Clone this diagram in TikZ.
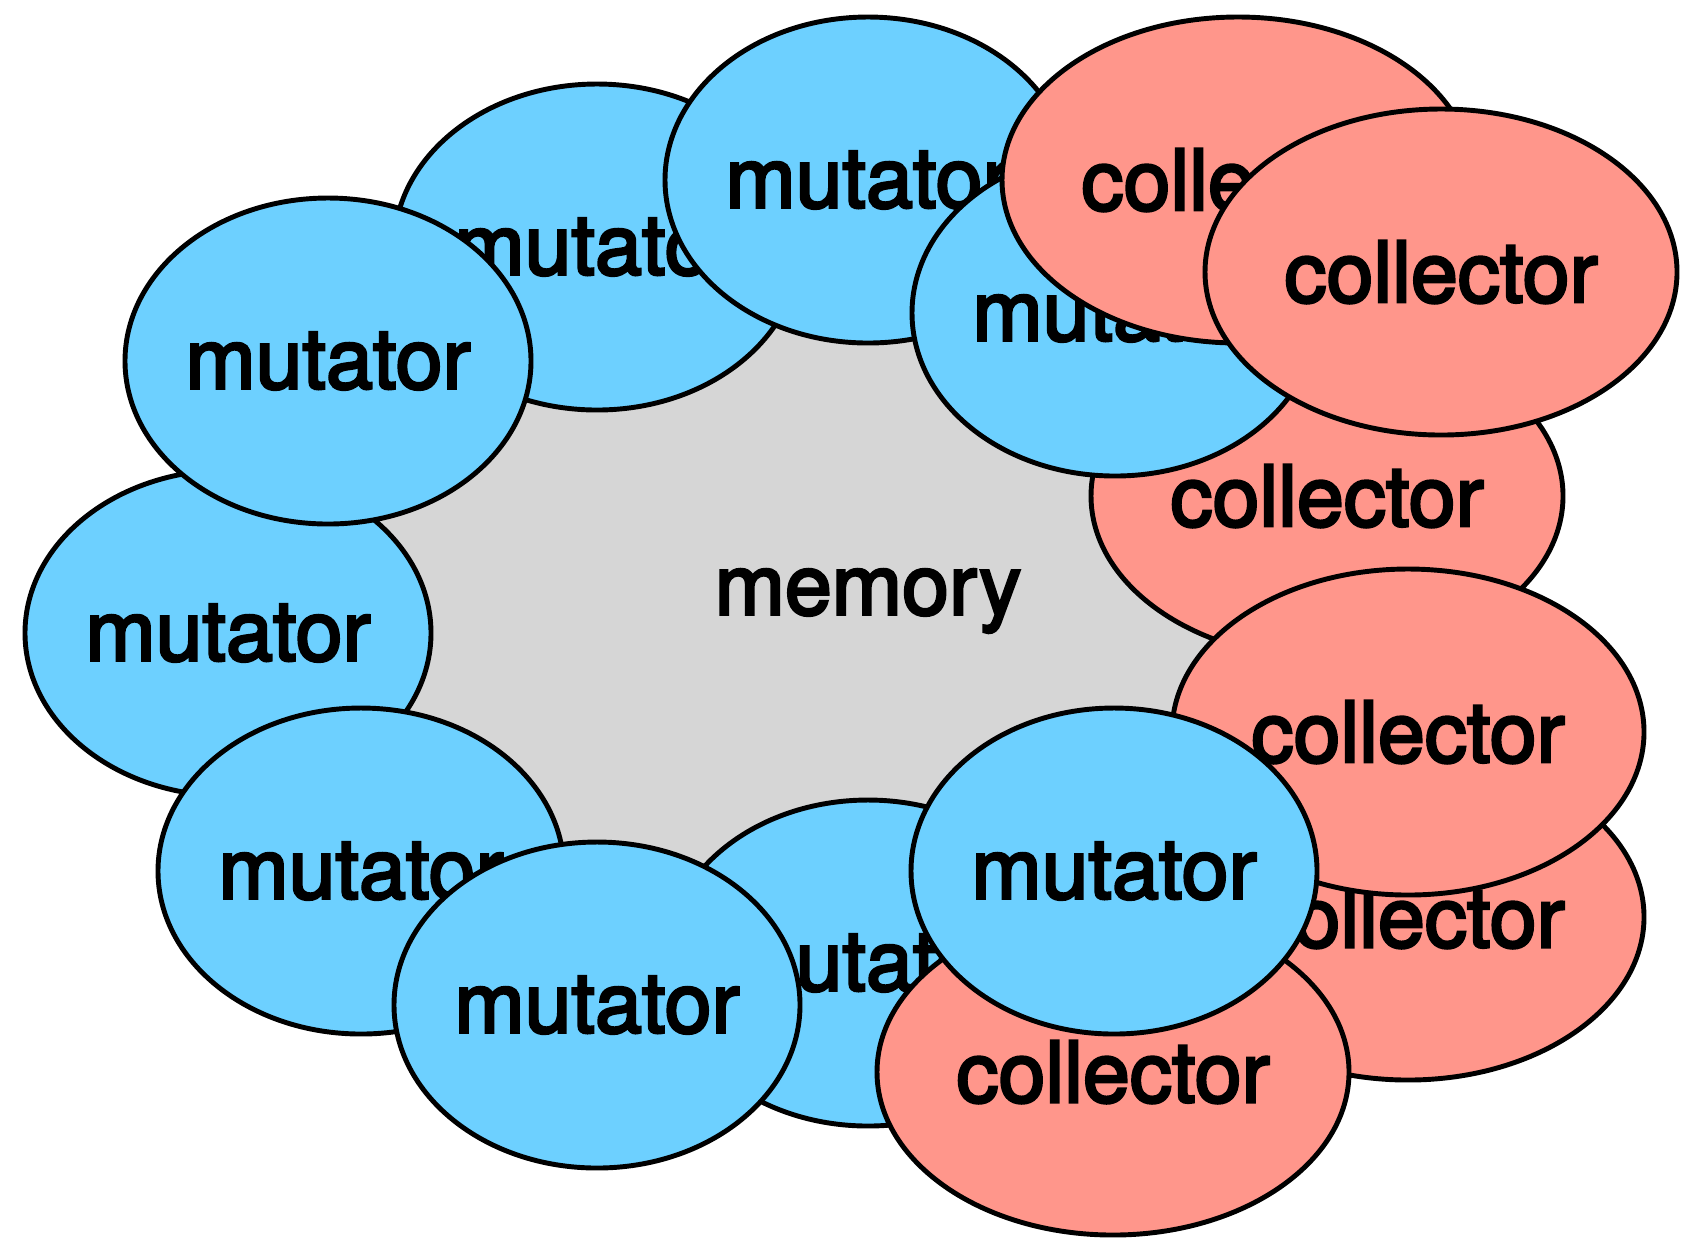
\documentclass[tikz,border=0pt]{standalone}
\usepackage{fontspec}
\setmainfont{TeX Gyre Heros}
\newfontfamily\labfont{TeX Gyre Heros}[FakeBold=3.2]
\usepackage{tikz}
\usetikzlibrary{shapes.geometric}
\definecolor{mutfill}{RGB}{109,208,255}
\definecolor{colfill}{RGB}{255,150,139}
\definecolor{memfill}{RGB}{214,214,214}
\tikzset{
  blob/.style ={ellipse, draw=black, line width=1.4pt, inner sep=0pt, outer sep=0pt,
                minimum height=3.26cm, font=\labfont\fontsize{24}{28}\selectfont},
  mut/.style  ={blob, fill=mutfill, minimum width=4.06cm},
  col/.style  ={blob, fill=colfill, minimum width=4.72cm},
  mem/.style  ={ellipse, fill=memfill, inner sep=0pt, minimum width=10.8cm,
                minimum height=8cm, font=\labfont\fontsize{24}{28}\selectfont},
}
\begin{document}
\begin{tikzpicture}[scale=1]
  \useasboundingbox (0,0) rectangle (16.81,-12.40);
  \node[mem] (mem) at (8.68,-6.01) {memory};
  \node[mut] (m1) at (5.97,-2.47) {mutator};
  \node[mut] (m4) at (2.28,-6.33) {mutator};
  \node[mut] (m3) at (3.28,-3.61) {mutator};
  \node[mut] (m5) at (3.61,-8.71) {mutator};
  \node[mut] (m2) at (8.68,-1.80) {mutator};
  \node[mut] (m7) at (8.68,-9.63) {mutator};
  \node[mut] (m6) at (5.97,-10.05) {mutator};
  \node[col] (c3) at (13.27,-4.96) {collector};
  \node[mut] (m9) at (11.15,-3.13) {mutator};
  \node[col] (c1) at (12.38,-1.80) {collector};
  \node[col] (c2) at (14.41,-2.72) {collector};
  \node[col] (c5) at (14.08,-9.17) {collector};
  \node[col] (c4) at (14.08,-7.32) {collector};
  \node[col] (c6) at (11.13,-10.72) {collector};
  \node[mut] (m8) at (11.14,-8.71) {mutator};
\end{tikzpicture}
\end{document}
